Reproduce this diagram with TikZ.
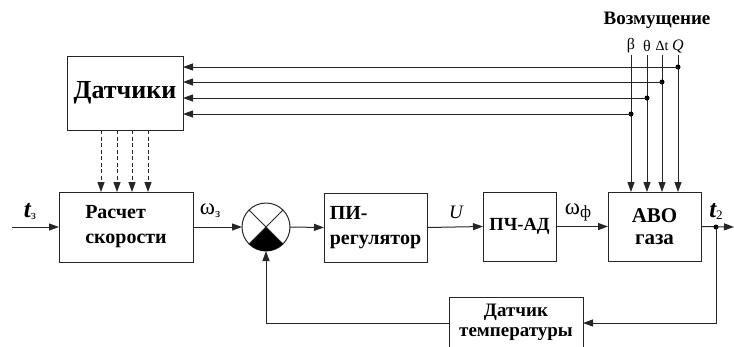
\documentclass[tikz,border=0pt]{standalone}
\usepackage{fontspec}
\setmainfont{LiberationSerif}[Extension=.ttf, UprightFont=*-Regular, BoldFont=*-Bold,
  ItalicFont=*-Italic, BoldItalicFont=*-BoldItalic]
\usetikzlibrary{arrows.meta}
\begin{document}
\begin{tikzpicture}[x=1pt,y=-1pt,
  blk/.style={draw=black!85, line width=1pt, inner sep=0pt, outer sep=0pt,
    font=\bfseries\fontsize{20}{25}\selectfont, align=center},
  arr/.style={-{Triangle[length=10pt,width=7pt]}, line width=1pt, draw=black!85},
  darr/.style={arr, dashed, dash pattern=on 4pt off 2.5pt},
  ln/.style={line width=1pt, draw=black!85},
  dot/.style={circle, fill=black, inner sep=0pt, minimum size=5pt},
  lbl/.style={inner sep=0pt}]
\useasboundingbox (0,0) rectangle (734,346);

% blocks
\node[blk, minimum width=116pt, minimum height=74pt,
      font=\bfseries\fontsize{26}{30}\selectfont] (sens) at (125,93) {Датчики};
\node[blk, minimum width=134pt, minimum height=70pt, align=left] (calc) at (126,227) {Расчет\\скорости};
\node[draw=black!85, line width=1pt, circle, minimum size=48pt, inner sep=0pt, outer sep=0pt] (sum) at (266,227) {};
\node[blk, minimum width=103pt, minimum height=69pt, align=left] (pid) at (375.5,227.5) {ПИ-\\регулятор};
\node[blk, minimum width=73pt, minimum height=69pt,
      font=\bfseries\fontsize{18.5}{22}\selectfont] (conv) at (519.5,226.5) {ПЧ-АД};
\node[blk, minimum width=93pt, minimum height=69pt,
      font=\bfseries\fontsize{21}{22}\selectfont] (avo) at (654.5,226.5) {АВО\\газа};
\node[blk, minimum width=134pt, minimum height=50pt,
      font=\bfseries\fontsize{19}{20}\selectfont] (tsens) at (516,322) {Датчик\\температуры};

% summing junction: cross and dark lower sector
\fill (sum.center) -- (sum.-45) arc[start angle=-45, end angle=-135, radius=24pt] -- cycle;
\draw[ln] (sum.45) -- (sum.-135);
\draw[ln] (sum.135) -- (sum.-45);

% main signal path
\coordinate (tin) at (12,227);
\coordinate (tout) at (734,227);
\draw[arr] (tin) -- (calc.west);
\draw[arr] (calc.east) -- (sum.west);
\draw[arr] (sum.east) -- (pid.west);
\draw[arr] (pid.east) -- (conv.west);
\draw[arr] (conv.east) -- (avo.west);
\draw[arr] (avo.east) -- (tout);
\node[dot] (tap) at (716,227) {};

% temperature feedback
\coordinate (fb) at (716,323);
\draw[arr] (tap.center) -- (fb) -- (tsens.east |- fb);
\draw[arr] (tsens.west |- fb) -- (266,323) -- (sum.south);

% sensor outputs into the speed calculation
\foreach \x in {101,117,132,148}
  \draw[darr] (sens.south -| \x,0) -- (calc.north -| \x,0);

% disturbances
\node[lbl, font=\bfseries\fontsize{19}{20}\selectfont] (dist) at (657,20) {Возмущение};
\node[lbl, font=\fontsize{16}{18}\selectfont] (lb) at (631,46) {β};
\node[lbl, font=\fontsize{16}{18}\selectfont] (lt) at (647,46) {θ};
\node[lbl, font=\fontsize{14}{16}\selectfont] (ld) at (662,46) {Δt};
\node[lbl, font=\itshape\fontsize{16}{18}\selectfont] (lq) at (678,46) {Q};
\foreach \n/\x/\y in {lb/631/114, lt/647/98, ld/662/82, lq/678/67} {
  \draw[arr] (\n.south |- 0,55) -- (avo.north -| \x,0);
  \node[dot] (j\n) at (\x,\y) {};
  \draw[arr] (j\n.center) -- (sens.east |- 0,\y);
}

% signal labels
\node[lbl, font=\bfseries\itshape\fontsize{25}{25}\selectfont] (lt3) at (30,212)
  {t\raisebox{-2pt}{\upshape\mdseries\fontsize{13}{13}\selectfont з}};
\node[lbl, font=\fontsize{23}{23}\selectfont] (lw3) at (210,211)
  {ω\raisebox{-3pt}{\fontsize{13}{13}\selectfont з}};
\node[lbl, font=\itshape\fontsize{19}{19}\selectfont] (lu) at (456,212) {U};
\node[lbl, font=\fontsize{23}{23}\selectfont] (lwf) at (578,212)
  {ω\raisebox{-3pt}{\fontsize{17}{17}\selectfont ф}};
\node[lbl, font=\bfseries\itshape\fontsize{25}{25}\selectfont] (lt2) at (716,211)
  {t\raisebox{-2pt}{\upshape\mdseries\fontsize{13}{13}\selectfont 2}};
\end{tikzpicture}
\end{document}
